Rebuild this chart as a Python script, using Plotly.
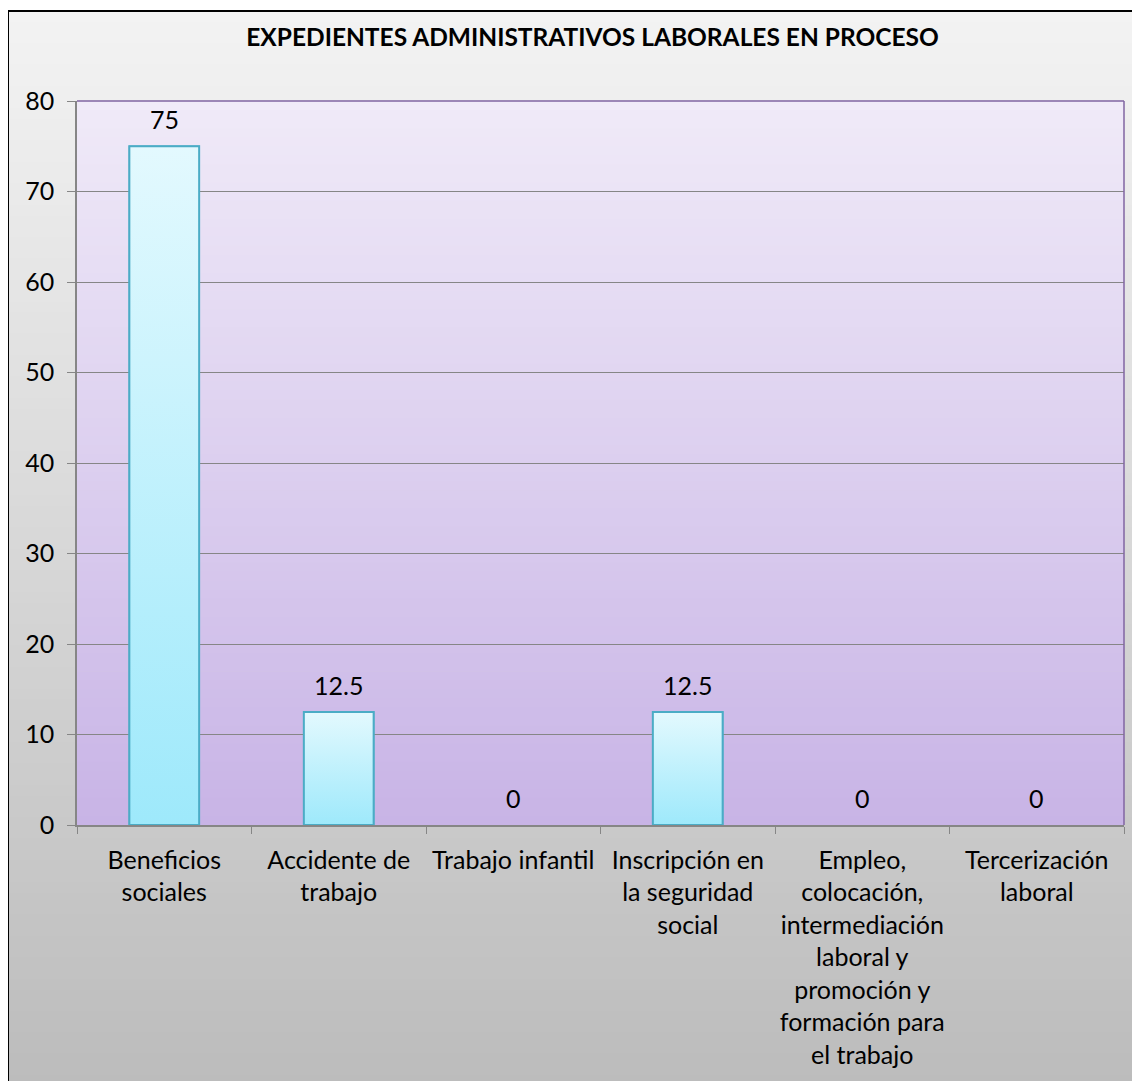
import plotly.graph_objects as go

categories = [
    "Beneficios<br>sociales",
    "Accidente de<br>trabajo",
    "Trabajo infantil",
    "Inscripción en<br>la seguridad<br>social",
    "Empleo,<br>colocación,<br>intermediación<br>laboral y<br>promoción y<br>formación para<br>el trabajo",
    "Tercerización<br>laboral",
]
values = [75, 12.5, 0, 12.5, 0, 0]
value_labels = ["75", "12.5", "0", "12.5", "0", "0"]
y_ticks = [0, 10, 20, 30, 40, 50, 60, 70, 80]

# the page body adds an 8px margin, so the figure is sized/positioned to compensate
OFF = 8
W, H = 1140 - OFF, 1081 - OFF
ML, MR, MT, MB = 77 - OFF, 16, 101 - OFF, 256
PW, PH = W - ML - MR, H - MT - MB

FONT = "Lato"
BAR_W = 0.4
BAR_BORDER = "#4bacc6"


def lerp(c1, c2, t):
    a = [int(c1[i:i + 2], 16) for i in (1, 3, 5)]
    b = [int(c2[i:i + 2], 16) for i in (1, 3, 5)]
    return "#%02x%02x%02x" % tuple(round(a[k] + (b[k] - a[k]) * t) for k in range(3))


def px_x(p):
    return (p - ML) / PW


def px_y(p):
    return (H - MB - p) / PH


shapes = []
# page gradient (inside outer border)
n = 100
top_px, bot_px = 3, H + 5
for i in range(n):
    y0 = top_px + (bot_px - top_px) * i / n
    y1 = top_px + (bot_px - top_px) * (i + 1) / n + 1
    shapes.append(dict(type="rect", xref="paper", yref="paper", layer="below",
                       x0=px_x(0), x1=px_x(W + 5), y0=px_y(y1), y1=px_y(y0),
                       fillcolor=lerp("#f3f3f3", "#bcbcbc", i / (n - 1)),
                       line=dict(width=0)))
# plot area gradient
m = 80
for i in range(m):
    shapes.append(dict(type="rect", xref="paper", yref="paper", layer="below",
                       x0=0, x1=1, y0=1 - (i + 1) / m - 0.001, y1=1 - i / m,
                       fillcolor=lerp("#f0eaf8", "#c8b4e6", i / (m - 1)),
                       line=dict(width=0)))
# outer border
shapes.append(dict(type="rect", xref="paper", yref="paper", layer="above",
                   x0=px_x(0), x1=px_x(W + 20), y0=px_y(H + 20), y1=px_y(3),
                   line=dict(color="#000000", width=2), fillcolor="rgba(0,0,0,0)"))
# plot area top and right border (purple)
shapes.append(dict(type="line", xref="paper", yref="paper", layer="above",
                   x0=0, x1=1, y0=1, y1=1, line=dict(color="#8064a2", width=1.5)))
shapes.append(dict(type="line", xref="paper", yref="paper", layer="above",
                   x0=1, x1=1, y0=0, y1=1, line=dict(color="#8064a2", width=1.5)))

xs = list(range(len(categories)))

fig = go.Figure()
fig.add_trace(go.Bar(
    x=xs, y=values, width=BAR_W,
    marker=dict(color="#c4f1fd",
                line=dict(color=BAR_BORDER, width=[1.5 if v > 0 else 0 for v in values])),
    hoverinfo="skip", showlegend=False,
))
# gradient overlays on bars
for x, v in zip(xs, values):
    if v <= 0:
        continue
    fig.add_trace(go.Scatter(
        x=[x - BAR_W / 2, x + BAR_W / 2, x + BAR_W / 2, x - BAR_W / 2, x - BAR_W / 2],
        y=[0, 0, v, v, 0],
        mode="lines", fill="toself",
        fillgradient=dict(type="vertical", start=0, stop=v,
                          colorscale=[[0, "#9ee9fb"], [1, "#e3f9fe"]]),
        line=dict(color=BAR_BORDER, width=2),
        hoverinfo="skip", showlegend=False,
    ))

annotations = [
    dict(x=x, y=v, xref="x", yref="y", text=t, showarrow=False,
         yanchor="middle", yshift=27,
         font=dict(family=FONT, size=25, color="#000000"))
    for x, v, t in zip(xs, values, value_labels)
]

fig.update_layout(
    width=W, height=H,
    margin=dict(l=ML, r=MR, t=MT, b=MB),
    paper_bgcolor="#ffffff",
    plot_bgcolor="rgba(0,0,0,0)",
    shapes=shapes,
    annotations=annotations,
    title=dict(text="<b>EXPEDIENTES ADMINISTRATIVOS LABORALES EN PROCESO</b>",
               x=(592.5 - OFF) / W, xanchor="center", y=1 - (37 - OFF) / H, yanchor="middle",
               font=dict(family=FONT, size=24.5, color="#000000")),
    font=dict(family=FONT, size=25, color="#000000"),
)
fig.update_xaxes(
    range=[-0.5, len(categories) - 0.5],
    tickmode="array", tickvals=xs, ticktext=categories,
    ticks="", showgrid=False, zeroline=False,
    showline=True, linecolor="#868686", linewidth=1.5,
    tickfont=dict(family=FONT, size=25, color="#000000"),
    ticklabelstandoff=12,
    minor=dict(tick0=-0.5, dtick=1, ticks="outside", ticklen=7,
               tickcolor="#868686", tickwidth=1, showgrid=False),
    fixedrange=True,
)
fig.update_yaxes(
    range=[0, 80], tickmode="array", tickvals=y_ticks,
    ticks="outside", ticklen=8, tickcolor="#868686",
    ticklabelstandoff=8,
    showgrid=True, gridcolor="#868686", gridwidth=1,
    zeroline=False, showline=True, linecolor="#868686", linewidth=1.5,
    tickfont=dict(family=FONT, size=25, color="#000000"),
    fixedrange=True,
)

fig.write_html("out.html")
